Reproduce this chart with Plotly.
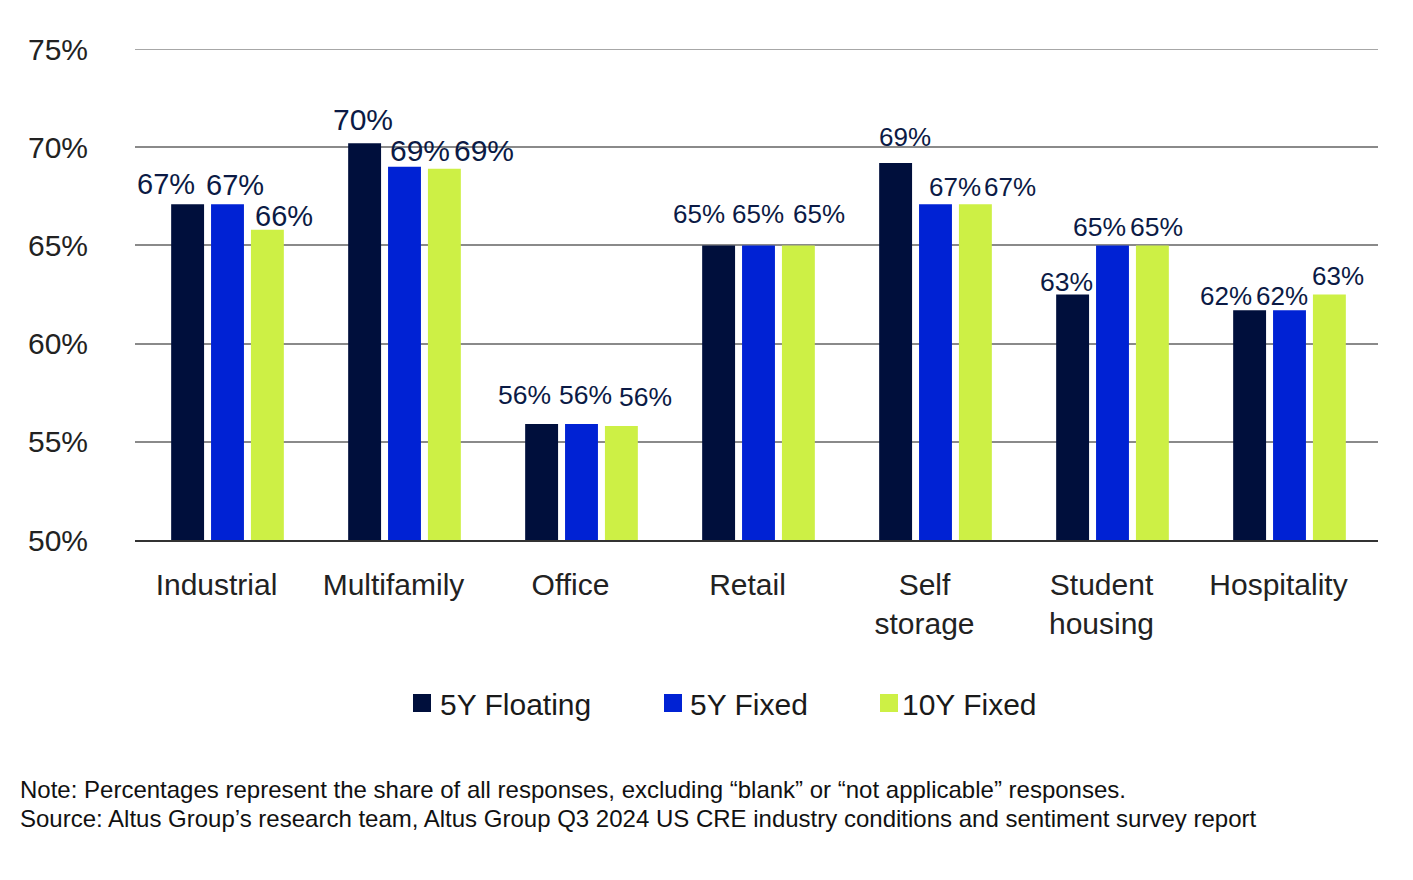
import plotly.graph_objects as go

categories = ["Industrial", "Multifamily", "Office", "Retail", "Self<br>storage", "Student<br>housing", "Hospitality"]
series_names = ["5Y Floating", "5Y Fixed", "10Y Fixed"]
floating_5y = [67.1, 70.2, 55.9, 65.0, 69.2, 62.5, 61.7]
fixed_5y = [67.1, 69.0, 55.9, 65.0, 67.1, 65.0, 61.7]
fixed_10y = [65.8, 68.9, 55.8, 65.0, 67.1, 65.0, 62.5]
floating_5y_labels = ["67%", "70%", "56%", "65%", "69%", "63%", "62%"]
fixed_5y_labels = ["67%", "69%", "56%", "65%", "67%", "65%", "62%"]
fixed_10y_labels = ["66%", "69%", "56%", "65%", "67%", "65%", "63%"]
y_ticks = [50, 55, 60, 65, 70, 75]
y_tick_labels = ["50%", "55%", "60%", "65%", "70%", "75%"]

# ---- styles ----
colors = ["#000f3c", "#0022d4", "#cdf045"]
label_color = "#0b1a45"
label_sizes = [29, 30, 26.5, 26, 26, 26.5, 26]
# per-label pixel nudges (horizontal from bar centre, vertical above bar top)
label_dx = [[-21.5, -2, -17, -19.5, 9, -6, -24],
            [7.5, 15, 4, -1, 19, -13.5, -8],
            [16, 39, 24, 20, 34.5, 4, 8]]
label_dy = [[20, 24, 29, 31, 25.5, 13, 14.5],
            [19, 16, 29, 31, 17.5, 18, 14.5],
            [14, 18, 29, 31, 17.5, 18, 19]]
series_shift = [-40, 0, 40]
FONT = "Liberation Sans, Arial, sans-serif"

OFF = 8  # page body margin
W, H = 1413 - OFF, 880 - OFF
ml, mr, mt, mb = 135 - OFF, 35, 49 - OFF, 340
pw, ph = W - ml - mr, H - mt - mb

def px_x(x):
    return (x - OFF - ml) / pw

def px_y(y):
    return (H - mb - (y - OFF)) / ph

fig = go.Figure()
all_vals = [floating_5y, fixed_5y, fixed_10y]
all_lbls = [floating_5y_labels, fixed_5y_labels, fixed_10y_labels]
for s, (name, vals, col) in enumerate(zip(series_names, all_vals, colors)):
    fig.add_trace(go.Bar(x=categories, y=vals, name=name, marker_color=col,
                         marker_line_width=0, showlegend=False))
    for i, (c, v, t) in enumerate(zip(categories, vals, all_lbls[s])):
        fig.add_annotation(x=c, y=v, text=t, showarrow=False,
                           xanchor="center", yanchor="middle",
                           xshift=series_shift[s] + label_dx[s][i], yshift=label_dy[s][i],
                           font=dict(size=label_sizes[i], color=label_color, family=FONT))

# top gridline at 75%
fig.add_shape(type="line", xref="paper", yref="y", x0=0, x1=1, y0=75, y1=75,
              line=dict(color="#8a8a8a", width=1.5), layer="below")

legend_items = [(413, 440), (664, 690), (880, 902)]
for (sx, tx), name, col in zip(legend_items, series_names, colors):
    fig.add_shape(type="rect", xref="paper", yref="paper",
                  x0=px_x(sx), x1=px_x(sx + 18), y0=px_y(712), y1=px_y(694),
                  fillcolor=col, line_width=0)
    fig.add_annotation(xref="paper", yref="paper", x=px_x(tx - 2), y=px_y(704),
                       text=name, showarrow=False, xanchor="left", yanchor="middle",
                       font=dict(size=30, color="#1a1a1a", family=FONT))

fig.add_annotation(xref="paper", yref="paper", x=px_x(18), y=px_y(789),
                   text="Note: Percentages represent the share of all responses, excluding \u201cblank\u201d or \u201cnot applicable\u201d responses.",
                   showarrow=False, xanchor="left", yanchor="middle",
                   font=dict(size=24, color="#111111", family=FONT))
fig.add_annotation(xref="paper", yref="paper", x=px_x(18), y=px_y(818),
                   text="Source: Altus Group\u2019s research team, Altus Group Q3 2024 US CRE industry conditions and sentiment survey report",
                   showarrow=False, xanchor="left", yanchor="middle",
                   font=dict(size=24, color="#111111", family=FONT))

fig.update_layout(
    width=W, height=H,
    margin=dict(l=ml, r=mr, t=mt, b=mb, pad=0),
    paper_bgcolor="white", plot_bgcolor="white",
    barmode="group", bargap=0.324, bargroupgap=0.175,
    font=dict(family=FONT, color="#222222"),
    xaxis=dict(showline=True, linecolor="#333333", linewidth=2, ticks="",
               tickfont=dict(size=30, color="#222222"), ticklabelstandoff=17,
               ticklabelshift=-11, showgrid=False),
    yaxis=dict(range=[50, 75], tickvals=y_ticks, ticktext=y_tick_labels,
               showgrid=True, gridcolor="#8a8a8a", gridwidth=1.5, zeroline=False,
               tickfont=dict(size=30, color="#222222"), ticklabelstandoff=46,
               showline=False, ticks=""),
    showlegend=False,
)

fig.write_html("out.html")
